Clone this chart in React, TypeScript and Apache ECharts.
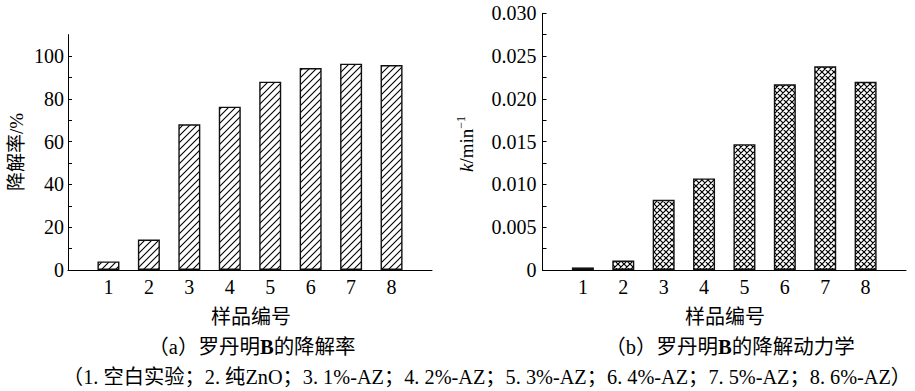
import React, { useEffect, useRef } from "react";
import * as echarts from "echarts";

const sampleIds = [1, 2, 3, 4, 5, 6, 7, 8];
const degradationRate = [4.0, 14.2, 68.1, 76.3, 88.0, 94.4, 96.4, 95.8];
const rateConstant = [0.0003, 0.0011, 0.0082, 0.0107, 0.0147, 0.0217, 0.0238, 0.022];

const leftYName = "降解率/%";
const xName = "样品编号";
const captionA = "（a）罗丹明{b|B}的降解率";
const captionB = "（b）罗丹明{b|B}的降解动力学";
const legendLine =
  "（1. 空白实验；2. 纯ZnO；3. 1%-AZ；4. 2%-AZ；5. 3%-AZ；6. 4%-AZ；7. 5%-AZ；8. 6%-AZ）";

const FONT = "'Liberation Serif', 'Noto Sans CJK SC', serif";

function makeHatch(size: number, cross: boolean): string {
  const c = document.createElement("canvas");
  c.width = size;
  c.height = size;
  const ctx = c.getContext("2d")!;
  ctx.fillStyle = "#fff";
  ctx.fillRect(0, 0, size, size);
  ctx.strokeStyle = "#000";
  ctx.lineWidth = cross ? 1.2 : 1.1;
  ctx.beginPath();
  ctx.moveTo(-1, size + 1);
  ctx.lineTo(size + 1, -1);
  ctx.moveTo(-1, 1);
  ctx.lineTo(1, -1);
  ctx.moveTo(size - 1, size + 1);
  ctx.lineTo(size + 1, size - 1);
  if (cross) {
    ctx.moveTo(-1, -1);
    ctx.lineTo(size + 1, size + 1);
    ctx.moveTo(-1, size - 1);
    ctx.lineTo(1, size + 1);
    ctx.moveTo(size - 1, -1);
    ctx.lineTo(size + 1, 1);
  }
  ctx.stroke();
  return c.toDataURL();
}

export default function App() {
  const ref = useRef<HTMLDivElement>(null);
  useEffect(() => {
    document.body.style.margin = "0";
    const chart = echarts.init(ref.current!, undefined, { renderer: "svg" });
    const hatch = {
      image: makeHatch(7, false),
      repeat: "repeat",
      imageWidth: 7,
      imageHeight: 7,
    };
    const cross = {
      image: makeHatch(6, true),
      repeat: "repeat",
      imageWidth: 6,
      imageHeight: 6,
    };
    const axisLabelStyle = { color: "#000", fontFamily: FONT, fontSize: 20 };
    const xAxisCommon = {
      type: "value",
      min: 0,
      max: 9,
      interval: 1,
      axisLine: { show: true, lineStyle: { color: "#000", width: 1 } },
      axisTick: { show: false },
      splitLine: { show: false },
      axisLabel: {
        ...axisLabelStyle,
        margin: 7,
        formatter: (v: number) => (v >= 1 && v <= 8 ? String(v) : ""),
      },
    };
    const textBase = { fill: "#000", fontFamily: FONT, fontSize: 20, align: "center", verticalAlign: "middle" };
    const boldB = { b: { fontWeight: "bold", fontSize: 20.5, fontFamily: FONT, fill: "#000" } };
    chart.setOption({
      animation: false,
      backgroundColor: "#fff",
      grid: [
        { left: 68, top: 34.6, width: 364, height: 235.4 },
        { left: 542.5, top: 13.3, width: 363.5, height: 256.7 },
      ],
      xAxis: [
        { ...xAxisCommon, gridIndex: 0 },
        { ...xAxisCommon, gridIndex: 1 },
      ],
      yAxis: [
        {
          type: "value",
          gridIndex: 0,
          min: 0,
          max: 110,
          interval: 10,
          axisLine: { show: true, lineStyle: { color: "#000", width: 1 } },
          axisTick: { show: true, inside: true, length: 4, lineStyle: { color: "#000" } },
          splitLine: { show: false },
          axisLabel: {
            ...axisLabelStyle,
            margin: 4,
            showMaxLabel: false,
            formatter: (v: number) => (Math.round(v) % 20 === 0 && v <= 100 ? String(Math.round(v)) : ""),
          },
        },
        {
          type: "value",
          gridIndex: 1,
          min: 0,
          max: 0.03,
          interval: 0.0025,
          axisLine: { show: true, lineStyle: { color: "#000", width: 1 } },
          axisTick: { show: true, inside: true, length: 4, lineStyle: { color: "#000" } },
          splitLine: { show: false },
          axisLabel: {
            ...axisLabelStyle,
            margin: 6,
            formatter: (v: number) => {
              const r = Math.round(v * 10000);
              if (r % 50 !== 0) return "";
              return r === 0 ? "0" : (r / 10000).toFixed(3);
            },
          },
        },
      ],
      series: [
        {
          type: "bar",
          xAxisIndex: 0,
          yAxisIndex: 0,
          barWidth: 22,
          data: sampleIds.map((id, i) => [id, degradationRate[i]]),
          itemStyle: { color: hatch, borderColor: "#111", borderWidth: 1.4 },
        },
        {
          type: "bar",
          xAxisIndex: 1,
          yAxisIndex: 1,
          barWidth: 22,
          data: sampleIds.map((id, i) => [id, rateConstant[i]]),
          itemStyle: { color: cross, borderColor: "#111", borderWidth: 1.4 },
        },
      ],
      graphic: [
        {
          type: "text",
          x: 16,
          y: 152,
          rotation: Math.PI / 2,
          style: { ...textBase, text: leftYName, fontSize: 19 },
        },
        {
          type: "text",
          x: 466,
          y: 144,
          rotation: Math.PI / 2,
          style: {
            ...textBase,
            text: "{i|k}/min{s|−1}",
            fontSize: 19,
            lineHeight: 22,
            rich: {
              i: { fontStyle: "italic", fontSize: 19, fontFamily: FONT, fill: "#000", lineHeight: 22 },
              s: { fontSize: 12, fontFamily: FONT, fill: "#000", verticalAlign: "top", lineHeight: 22 },
            },
          },
        },
        { type: "text", x: 251, y: 317, style: { ...textBase, text: xName } },
        { type: "text", x: 725, y: 317, style: { ...textBase, text: xName } },
        {
          type: "text",
          x: 252,
          y: 347,
          style: { ...textBase, fontSize: 20.5, text: captionA, rich: boldB },
        },
        {
          type: "text",
          x: 730,
          y: 347,
          style: { ...textBase, fontSize: 20.5, text: captionB, rich: boldB },
        },
        { type: "text", x: 487, y: 377, style: { ...textBase, fontSize: 20.3, text: legendLine } },
      ],
    });
    return () => chart.dispose();
  }, []);
  return <div ref={ref} style={{ width: 915, height: 391 }} />;
}
